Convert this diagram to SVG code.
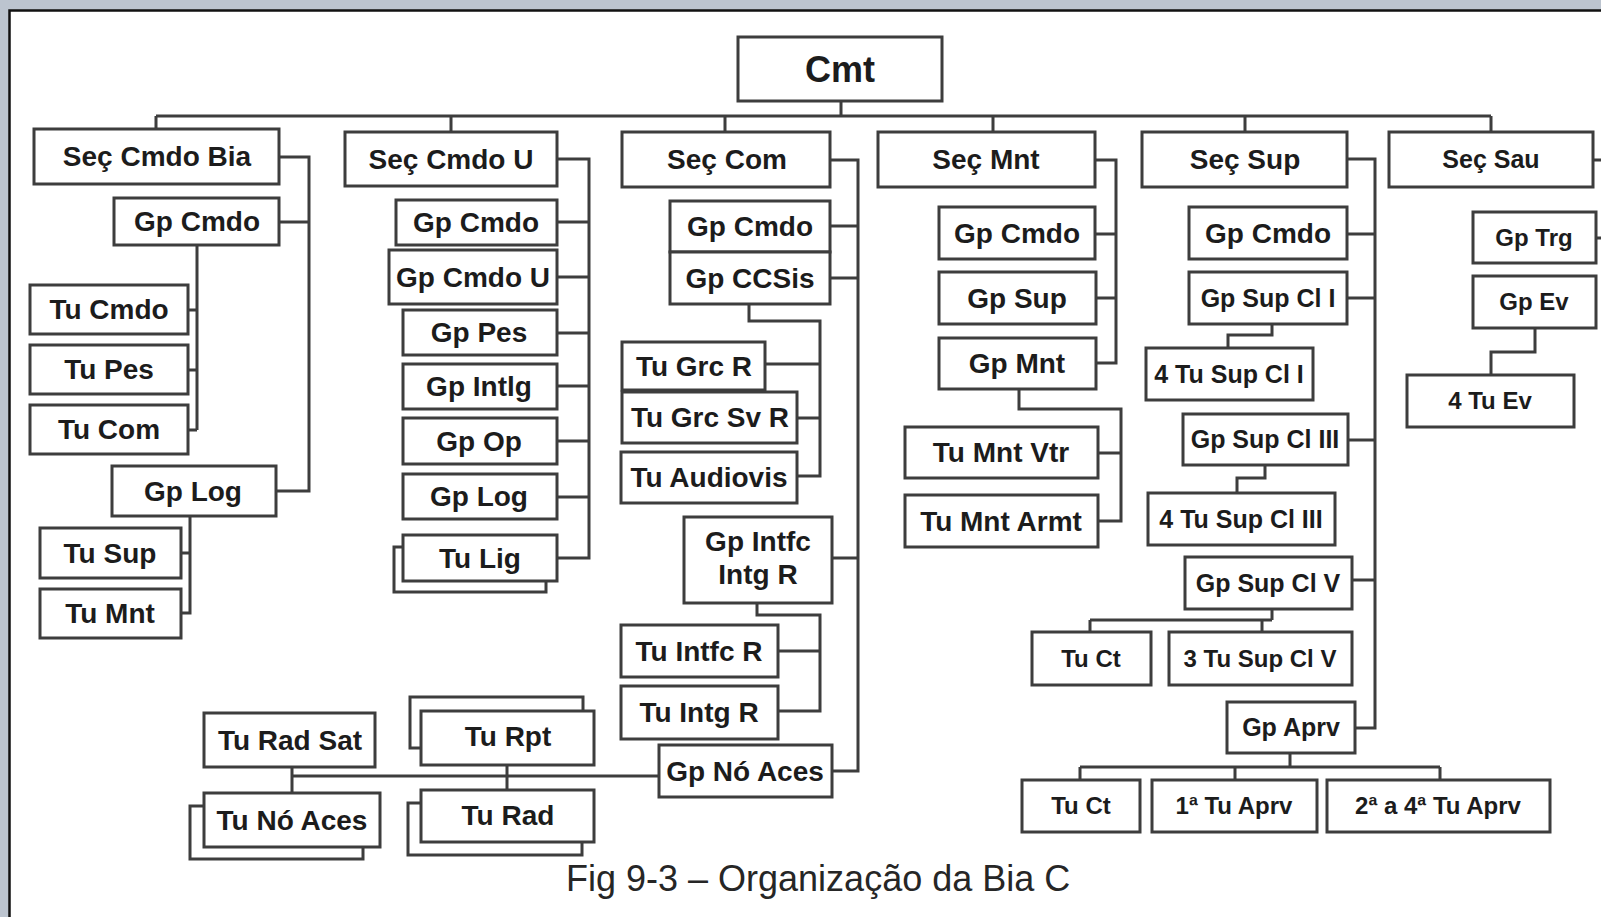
<svg xmlns="http://www.w3.org/2000/svg" width="1601" height="917" viewBox="0 0 1601 917">
<style>
.b{fill:#fff;stroke:#3d3d3d;stroke-width:3}
.k{fill:none;stroke:#3d3d3d;stroke-width:3}
.c{fill:none;stroke:#3d3d3d;stroke-width:3}
.t{font-family:'Liberation Sans',Arial,Helvetica,sans-serif;font-weight:bold;font-size:28px;fill:#1c1c1c;text-anchor:middle}
.s{font-size:25px}
.xs{font-size:24px}
.cap{font-family:'Liberation Sans',Arial,Helvetica,sans-serif;font-size:36px;fill:#262626}
</style>
<rect x="0" y="0" width="1601" height="917" fill="#bcc4cf"/>
<rect x="10" y="10" width="1591" height="907" fill="#ffffff"/>
<path d="M9.5 917 V10.5 H1601" fill="none" stroke="#111" stroke-width="2.5"/>

<g id="connectors">
<path class="c" d="M841 101 V116 M156 116 H1491 M156 116 V129 M451 116 V132 M725 116 V132 M993 116 V132 M1245 116 V132 M1491 116 V132"/>
<path class="c" d="M279 157 H309 V491 H276 M279 222 H309 M197 245 V430 M188 310 H197 M188 370 H197 M188 430 H197 M190 516 V613 H181 M181 553 H190"/>
<path class="c" d="M557 159 H589 V558 H557 M557 222 H589 M557 277 H589 M557 333 H589 M557 386 H589 M557 441 H589 M557 497 H589"/>
<path class="c" d="M830 160 H858 V771 H832 M830 226 H858 M830 278 H858 M832 558 H858 M749 304 V321 H820 V476 H797 M765 364 H820 M797 418 H820 M757 603 V615 H820 V711 H778 M778 651 H820 M659 776 H292 M292 767 V793 M507 765 V790"/>
<path class="c" d="M1095 160 H1116 V363 H1096 M1095 234 H1116 M1096 298 H1116 M1019 389 V409 H1121 V521 H1098 M1098 453 H1121"/>
<path class="c" d="M1347 159 H1375 V728 H1355 M1347 234 H1375 M1347 298 H1375 M1348 440 H1375 M1352 580 H1375 M1272 324 V335 H1228 V348 M1265 465 V478 H1237 V493 M1272 609 V620 M1090 620 H1272 M1090 620 V632 M1262 620 V632 M1290 753 V767 M1080 767 H1440 M1080 767 V780 M1235 767 V780 M1440 767 V780"/>
<path class="c" d="M1593 160 H1601 M1596 238 H1601 M1535 328 V352 H1491 V375"/>
</g>

<g id="n-cmt"><rect class="b" x="738" y="37" width="204" height="64"/><text class="t" x="840" y="82" style="font-size:36px">Cmt</text></g>

<g id="n-sec-cmdo-bia"><rect class="b" x="34" y="129" width="245" height="55"/><text class="t" x="157" y="166">Seç Cmdo Bia</text></g>
<g id="n-sec-cmdo-u"><rect class="b" x="345" y="132" width="212" height="54"/><text class="t" x="451" y="169">Seç Cmdo U</text></g>
<g id="n-sec-com"><rect class="b" x="622" y="132" width="208" height="55"/><text class="t" x="727" y="169">Seç Com</text></g>
<g id="n-sec-mnt"><rect class="b" x="878" y="132" width="217" height="55"/><text class="t" x="986" y="169">Seç Mnt</text></g>
<g id="n-sec-sup"><rect class="b" x="1142" y="132" width="205" height="55"/><text class="t" x="1245" y="169">Seç Sup</text></g>
<g id="n-sec-sau"><rect class="b" x="1389" y="132" width="204" height="55"/><text class="t s" x="1491" y="168">Seç Sau</text></g>

<g id="n-c1-gp-cmdo"><rect class="b" x="114" y="198" width="165" height="47"/><text class="t" x="197" y="231">Gp Cmdo</text></g>
<g id="n-c1-tu-cmdo"><rect class="b" x="30" y="285" width="158" height="49"/><text class="t" x="109" y="319">Tu Cmdo</text></g>
<g id="n-c1-tu-pes"><rect class="b" x="30" y="345" width="158" height="49"/><text class="t" x="109" y="379">Tu Pes</text></g>
<g id="n-c1-tu-com"><rect class="b" x="30" y="405" width="158" height="49"/><text class="t" x="109" y="439">Tu Com</text></g>
<g id="n-c1-gp-log"><rect class="b" x="112" y="466" width="164" height="50"/><text class="t" x="193" y="501">Gp Log</text></g>
<g id="n-c1-tu-sup"><rect class="b" x="40" y="528" width="141" height="50"/><text class="t" x="110" y="563">Tu Sup</text></g>
<g id="n-c1-tu-mnt"><rect class="b" x="40" y="589" width="141" height="49"/><text class="t" x="110" y="623">Tu Mnt</text></g>

<g id="n-c2-gp-cmdo"><rect class="b" x="396" y="200" width="161" height="45"/><text class="t" x="476" y="232">Gp Cmdo</text></g>
<g id="n-c2-gp-cmdo-u"><rect class="b" x="389" y="250" width="168" height="54"/><text class="t" x="473" y="287">Gp Cmdo U</text></g>
<g id="n-c2-gp-pes"><rect class="b" x="403" y="310" width="154" height="45"/><text class="t" x="479" y="342">Gp Pes</text></g>
<g id="n-c2-gp-intlg"><rect class="b" x="403" y="364" width="154" height="45"/><text class="t" x="479" y="396">Gp Intlg</text></g>
<g id="n-c2-gp-op"><rect class="b" x="403" y="418" width="154" height="46"/><text class="t" x="479" y="451">Gp Op</text></g>
<g id="n-c2-gp-log"><rect class="b" x="403" y="474" width="154" height="45"/><text class="t" x="479" y="506">Gp Log</text></g>
<g id="n-c2-tu-lig"><rect class="b" x="394" y="547" width="152" height="45"/><rect class="b" x="403" y="535" width="154" height="46"/><text class="t" x="480" y="568">Tu Lig</text></g>

<g id="n-c3-gp-cmdo"><rect class="b" x="670" y="201" width="160" height="51"/><text class="t" x="750" y="236">Gp Cmdo</text></g>
<g id="n-c3-gp-ccsis"><rect class="b" x="670" y="252" width="160" height="52"/><text class="t" x="750" y="288">Gp CCSis</text></g>
<g id="n-c3-tu-grc-r"><rect class="b" x="622" y="342" width="143" height="48"/><text class="t" x="694" y="376">Tu Grc R</text></g>
<g id="n-c3-tu-grc-sv-r"><rect class="b" x="622" y="392" width="175" height="51"/><text class="t" x="710" y="427">Tu Grc Sv R</text></g>
<g id="n-c3-tu-audiovis"><rect class="b" x="621" y="452" width="176" height="51"/><text class="t" x="709" y="487">Tu Audiovis</text></g>
<g id="n-c3-gp-intfc"><rect class="b" x="684" y="517" width="148" height="86"/><text class="t" x="758" y="551">Gp Intfc</text><text class="t" x="758" y="584">Intg R</text></g>
<g id="n-c3-tu-intfc-r"><rect class="b" x="621" y="625" width="157" height="52"/><text class="t" x="699" y="661">Tu Intfc R</text></g>
<g id="n-c3-tu-intg-r"><rect class="b" x="621" y="686" width="157" height="53"/><text class="t" x="699" y="722">Tu Intg R</text></g>
<g id="n-c3-gp-no-aces"><rect class="b" x="659" y="745" width="173" height="52"/><text class="t" x="745" y="781">Gp Nó Aces</text></g>
<g id="n-c3-tu-rad-sat"><rect class="b" x="204" y="713" width="171" height="54"/><text class="t" x="290" y="750">Tu Rad Sat</text></g>
<g id="n-c3-tu-no-aces"><rect class="b" x="190" y="806" width="173" height="53"/><rect class="b" x="204" y="793" width="176" height="54"/><text class="t" x="292" y="830">Tu Nó Aces</text></g>
<g id="n-c3-tu-rpt"><rect class="b" x="410" y="697" width="173" height="51"/><rect class="b" x="421" y="711" width="173" height="54"/><text class="t" x="508" y="746">Tu Rpt</text></g>
<g id="n-c3-tu-rad"><rect class="b" x="408" y="803" width="174" height="52"/><rect class="b" x="421" y="790" width="173" height="52"/><text class="t" x="508" y="825">Tu Rad</text></g>

<g id="n-c4-gp-cmdo"><rect class="b" x="939" y="207" width="156" height="52"/><text class="t" x="1017" y="243">Gp Cmdo</text></g>
<g id="n-c4-gp-sup"><rect class="b" x="939" y="272" width="157" height="52"/><text class="t" x="1017" y="308">Gp Sup</text></g>
<g id="n-c4-gp-mnt"><rect class="b" x="939" y="338" width="157" height="51"/><text class="t" x="1017" y="373">Gp Mnt</text></g>
<g id="n-c4-tu-mnt-vtr"><rect class="b" x="905" y="427" width="193" height="51"/><text class="t" x="1001" y="462">Tu Mnt Vtr</text></g>
<g id="n-c4-tu-mnt-armt"><rect class="b" x="905" y="495" width="193" height="52"/><text class="t" x="1001" y="531">Tu Mnt Armt</text></g>

<g id="n-c5-gp-cmdo"><rect class="b" x="1189" y="207" width="158" height="52"/><text class="t" x="1268" y="243">Gp Cmdo</text></g>
<g id="n-c5-gp-sup-cl-i"><rect class="b" x="1189" y="272" width="158" height="52"/><text class="t s" x="1268" y="307">Gp Sup Cl I</text></g>
<g id="n-c5-4-tu-sup-cl-i"><rect class="b" x="1146" y="348" width="167" height="52"/><text class="t s" x="1229" y="383">4 Tu Sup Cl I</text></g>
<g id="n-c5-gp-sup-cl-iii"><rect class="b" x="1183" y="414" width="165" height="51"/><text class="t s" x="1265" y="448">Gp Sup Cl III</text></g>
<g id="n-c5-4-tu-sup-cl-iii"><rect class="b" x="1148" y="493" width="187" height="52"/><text class="t s" x="1241" y="528">4 Tu Sup Cl III</text></g>
<g id="n-c5-gp-sup-cl-v"><rect class="b" x="1185" y="557" width="167" height="52"/><text class="t s" x="1268" y="592">Gp Sup Cl V</text></g>
<g id="n-c5-tu-ct-a"><rect class="b" x="1032" y="632" width="119" height="53"/><text class="t xs" x="1091" y="667">Tu Ct</text></g>
<g id="n-c5-3-tu-sup-cl-v"><rect class="b" x="1169" y="632" width="183" height="53"/><text class="t xs" x="1260" y="667">3 Tu Sup Cl V</text></g>
<g id="n-c5-gp-aprv"><rect class="b" x="1227" y="702" width="128" height="51"/><text class="t s" x="1291" y="736">Gp Aprv</text></g>
<g id="n-c5-tu-ct-b"><rect class="b" x="1022" y="780" width="118" height="52"/><text class="t xs" x="1081" y="814">Tu Ct</text></g>
<g id="n-c5-1-tu-aprv"><rect class="b" x="1152" y="780" width="165" height="52"/><text class="t xs" x="1234" y="814">1ª Tu Aprv</text></g>
<g id="n-c5-2-4-tu-aprv"><rect class="b" x="1327" y="780" width="223" height="52"/><text class="t xs" x="1438" y="814">2ª a 4ª Tu Aprv</text></g>

<g id="n-c6-gp-trg"><rect class="b" x="1473" y="212" width="123" height="51"/><text class="t xs" x="1534" y="246">Gp Trg</text></g>
<g id="n-c6-gp-ev"><rect class="b" x="1473" y="276" width="123" height="52"/><text class="t xs" x="1534" y="310">Gp Ev</text></g>
<g id="n-c6-4-tu-ev"><rect class="b" x="1407" y="375" width="167" height="52"/><text class="t xs" x="1490" y="409">4 Tu Ev</text></g>

<text class="cap" x="566" y="891">Fig 9-3 – Organização da Bia C</text>
</svg>
